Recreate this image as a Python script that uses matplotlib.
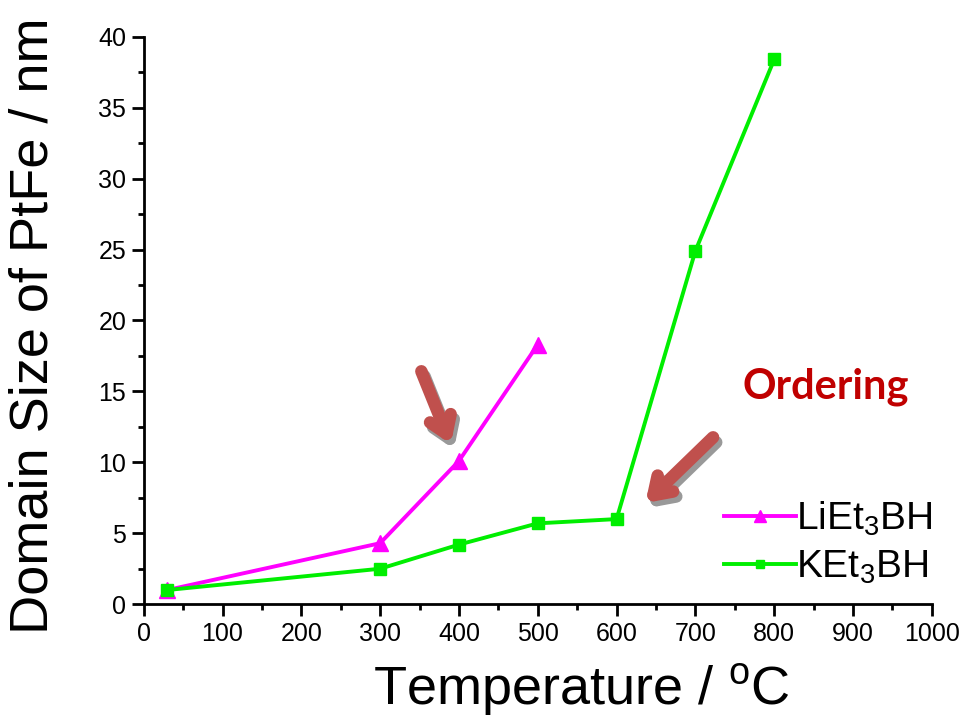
import matplotlib
matplotlib.use('Agg')
import matplotlib.pyplot as plt

plt.rcParams['font.family'] = ['Liberation Sans', 'DejaVu Sans']
plt.rcParams['mathtext.fontset'] = 'custom'
plt.rcParams['mathtext.rm'] = 'Liberation Sans'
plt.rcParams['mathtext.it'] = 'Liberation Sans'

# data
li_temp = [30, 300, 400, 500]
li_size = [1.0, 4.3, 10.1, 18.3]
k_temp = [30, 300, 400, 500, 600, 700, 800]
k_size = [1.0, 2.5, 4.2, 5.7, 6.0, 24.9, 38.4]

fig = plt.figure(figsize=(9.67, 7.21), dpi=100)
ax = fig.add_axes([0.1486, 0.162, 0.815, 0.787])

ax.plot(li_temp, li_size, color='#FF00FF', lw=2.8, marker='^', ms=11, label='LiEt$_3$BH')
ax.plot(k_temp, k_size, color='#00EE00', lw=2.8, marker='s', ms=8.5, label='KEt$_3$BH')

ax.set_xlim(0, 1000)
ax.set_ylim(0, 40)
ax.set_xticks(range(0, 1001, 100))
ax.set_yticks(range(0, 41, 5))
ax.set_xticks(range(50, 1000, 100), minor=True)
ax.set_yticks([2.5 + 5 * i for i in range(8)], minor=True)
ax.tick_params(which='major', direction='out', length=8.5, width=2, labelsize=18, pad=4)
ax.tick_params(which='minor', direction='out', length=4.5, width=2)
for s in ['top', 'right']:
    ax.spines[s].set_visible(False)
for s in ['left', 'bottom']:
    ax.spines[s].set_linewidth(2)

ax.set_xlabel('Temperature / $^{\\mathrm{o}}$C', fontsize=39)
ax.set_ylabel('Domain Size of PtFe / nm', fontsize=39)
ax.xaxis.set_label_coords(0.555, -0.103)
ax.yaxis.set_label_coords(-0.108, 0.49)

# arrows with a gray shadow
arrows = [((351, 16.6), (391, 11.1)), ((725, 11.9), (634, 7.0))]
style = '->,head_length=1.2,head_width=0.8'
for tail, head in arrows:
    ax.annotate('', xy=(head[0] + 4, head[1] - 0.35), xytext=(tail[0] + 4, tail[1] - 0.35),
                arrowprops=dict(arrowstyle=style, color='#999999', lw=9, capstyle='round'))
    ax.annotate('', xy=head, xytext=tail,
                arrowprops=dict(arrowstyle=style, color='#C0504D', lw=9, capstyle='round'))

ax.text(865, 15.3, 'Ordering', color='#C00000', fontsize=30, fontweight='bold',
        family=['Lato', 'DejaVu Sans'], ha='center', va='center')

ax.legend(loc='center left', bbox_to_anchor=(0.692, 0.108), frameon=False, fontsize=28,
          handlelength=1.85, handletextpad=0.0, markerscale=0.75, numpoints=1,
          labelspacing=0.28, borderpad=0.4)

fig.savefig('out.png', dpi=100)
